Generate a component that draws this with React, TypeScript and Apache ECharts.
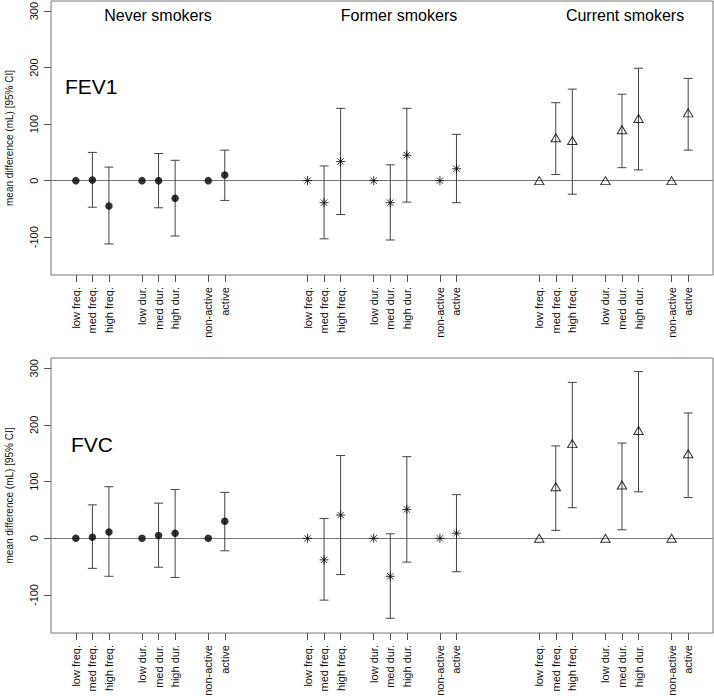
import React, { useEffect, useRef } from 'react';
import * as echarts from 'echarts';

// ---------- data ----------
const groupNames = ['Never smokers', 'Former smokers', 'Current smokers'];
const exposureLabels = ['low freq.', 'med freq.', 'high freq.', 'low dur.', 'med dur.', 'high dur.', 'non-active', 'active'];
const panelNames = ['FEV1', 'FVC'];
const yAxisTitle = 'mean difference (mL) [95% CI]';
const yTicks = [-100, 0, 100, 200, 300];

// FEV1
const fev1Never = [0, 1, -45, 0, 0, -31, 0, 10];
const fev1NeverLo = [null, -47, -112, null, -48, -98, null, -35];
const fev1NeverHi = [null, 50, 24, null, 48, 36, null, 54];
const fev1Former = [0, -39, 34, 0, -39, 45, 0, 21];
const fev1FormerLo = [null, -103, -60, null, -105, -38, null, -39];
const fev1FormerHi = [null, 26, 128, null, 28, 128, null, 82];
const fev1Current = [0, 76, 71, 0, 90, 110, 0, 120];
const fev1CurrentLo = [null, 11, -24, null, 23, 19, null, 54];
const fev1CurrentHi = [null, 138, 162, null, 153, 199, null, 181];

// FVC
const fvcNever = [0, 2, 11, 0, 5, 9, 0, 30];
const fvcNeverLo = [null, -53, -67, null, -51, -69, null, -22];
const fvcNeverHi = [null, 59, 91, null, 62, 86, null, 81];
const fvcFormer = [0, -38, 41, 0, -67, 51, 0, 9];
const fvcFormerLo = [null, -109, -64, null, -141, -42, null, -59];
const fvcFormerHi = [null, 35, 146, null, 8, 144, null, 77];
const fvcCurrent = [0, 91, 167, 0, 94, 190, 0, 149];
const fvcCurrentLo = [null, 14, 54, null, 15, 82, null, 72];
const fvcCurrentHi = [null, 163, 275, null, 168, 294, null, 221];

// ---------- layout ----------
const SLOT_COUNT = 40;
const GROUP_START = [1, 15, 29];
const SLOT_OFFSET = [0, 1, 2, 4, 5, 6, 8, 9];
const FONT = '"Liberation Sans", Arial, Helvetica, sans-serif';

const slotLabels: string[] = Array.from({ length: SLOT_COUNT }, () => '');
GROUP_START.forEach((g) => SLOT_OFFSET.forEach((o, i) => { slotLabels[g + o] = exposureLabels[i]; }));

const panels = [
  {
    groups: [
      { v: fev1Never, lo: fev1NeverLo, hi: fev1NeverHi },
      { v: fev1Former, lo: fev1FormerLo, hi: fev1FormerHi },
      { v: fev1Current, lo: fev1CurrentLo, hi: fev1CurrentHi },
    ],
  },
  {
    groups: [
      { v: fvcNever, lo: fvcNeverLo, hi: fvcNeverHi },
      { v: fvcFormer, lo: fvcFormerLo, hi: fvcFormerHi },
      { v: fvcCurrent, lo: fvcCurrentLo, hi: fvcCurrentHi },
    ],
  },
];

const asterisk = 'path://M0,5L10,5M5,0L5,10M1.5,1.5L8.5,8.5M1.5,8.5L8.5,1.5';

const symbolFor = [
  { symbol: 'circle', symbolSize: 7.5, itemStyle: { color: '#000', borderWidth: 0 } },
  { symbol: asterisk, symbolSize: 9, itemStyle: { color: 'transparent', borderColor: '#000', borderWidth: 1 } },
  { symbol: 'triangle', symbolSize: [9.5, 8], itemStyle: { color: 'transparent', borderColor: '#000', borderWidth: 1 } },
];

const gridBoxes = [
  { left: 51, top: 1, width: 662, height: 274 },
  { left: 51, top: 358, width: 662, height: 275 },
];

function buildOption() {
  const grid = gridBoxes.map((g) => ({
    ...g,
    show: true,
    borderColor: '#777',
    borderWidth: 1,
    backgroundColor: 'transparent',
    containLabel: false,
    outerBoundsMode: 'none',
  }));
  const xAxis = gridBoxes.map((_, p) => ({
    type: 'category',
    gridIndex: p,
    position: 'bottom',
    data: slotLabels.map((_, i) => String(i)),
    boundaryGap: true,
    axisLine: { show: false, onZero: false },
    splitLine: { show: false },
    axisTick: {
      show: true,
      alignWithLabel: true,
      length: 7,
      interval: (i: number) => slotLabels[i] !== '',
      lineStyle: { color: '#555', width: 1 },
    },
    axisLabel: {
      rotate: 90,
      interval: (i: number) => slotLabels[i] !== '',
      formatter: (_v: string, i: number) => slotLabels[i],
      margin: 12,
      fontSize: 11,
      color: '#111',
      fontFamily: FONT,
    },
  }));
  const yAxis = gridBoxes.map((_, p) => ({
    type: 'value',
    gridIndex: p,
    position: 'left',
    min: -167,
    max: 318,
    axisLine: { show: false, onZero: false },
    splitLine: { show: false },
    axisTick: { show: true, length: 7, customValues: yTicks, lineStyle: { color: '#555', width: 1 } },
    axisLabel: { customValues: yTicks, rotate: 90, margin: 12, fontSize: 11, color: '#111', fontFamily: FONT },
    name: yAxisTitle,
    nameLocation: 'middle',
    nameRotate: 90,
    nameGap: 37,
    nameTextStyle: { fontSize: 10, color: '#111', fontFamily: FONT },
  }));

  const series: any[] = [];
  panels.forEach((panel, p) => {
    panel.groups.forEach((grp, g) => {
      const bars: number[][] = [];
      const pts: number[][] = [];
      grp.v.forEach((val, i) => {
        const slot = GROUP_START[g] + SLOT_OFFSET[i];
        pts.push([slot, val]);
        const lo = grp.lo[i];
        const hi = grp.hi[i];
        if (lo !== null && hi !== null) bars.push([slot, lo as number, hi as number]);
      });
      const barSeries: any = {
        type: 'custom',
        xAxisIndex: p,
        yAxisIndex: p,
        z: 2,
        silent: true,
        data: bars,
        encode: { x: 0, y: [1, 2] },
        renderItem: (_params: any, api: any) => {
          const x = api.value(0);
          const a = api.coord([x, api.value(1)]);
          const b = api.coord([x, api.value(2)]);
          const w = 4.5;
          const style = { stroke: '#444', lineWidth: 1, fill: 'none' };
          return {
            type: 'group',
            children: [
              { type: 'line', shape: { x1: a[0], y1: a[1], x2: b[0], y2: b[1] }, style },
              { type: 'line', shape: { x1: b[0] - w, y1: b[1], x2: b[0] + w, y2: b[1] }, style },
              { type: 'line', shape: { x1: a[0] - w, y1: a[1], x2: a[0] + w, y2: a[1] }, style },
            ],
          };
        },
      };
      if (g === 0) {
        barSeries.markLine = {
          silent: true,
          symbol: 'none',
          label: { show: false },
          lineStyle: { color: '#777', width: 1, type: 'solid' },
          data: [{ yAxis: 0 }],
          z: 1,
        };
      }
      series.push(barSeries);
      series.push({
        type: 'scatter',
        xAxisIndex: p,
        yAxisIndex: p,
        z: 3,
        silent: true,
        data: pts,
        ...symbolFor[g],
      });
    });
  });

  const groupTitleX = [158, 399, 625];
  const graphic: any[] = [
    ...groupNames.map((t, i) => ({
      type: 'text',
      x: groupTitleX[i],
      y: 15,
      style: { text: t, align: 'center', verticalAlign: 'middle', fontSize: 16, fontFamily: FONT, fill: '#000' },
    })),
    {
      type: 'text',
      x: 65,
      y: 86,
      style: { text: panelNames[0], align: 'left', verticalAlign: 'middle', fontSize: 21, fontFamily: FONT, fill: '#000' },
    },
    {
      type: 'text',
      x: 71,
      y: 444,
      style: { text: panelNames[1], align: 'left', verticalAlign: 'middle', fontSize: 21, fontFamily: FONT, fill: '#000' },
    },
  ];

  return {
    animation: false,
    backgroundColor: '#fff',
    textStyle: { fontFamily: FONT },
    grid,
    xAxis,
    yAxis,
    series,
    graphic,
  };
}

export default function App() {
  const ref = useRef<HTMLDivElement>(null);
  useEffect(() => {
    if (!ref.current) return;
    const chart = echarts.init(ref.current, undefined, { renderer: 'svg' });
    chart.setOption(buildOption() as any);
    return () => chart.dispose();
  }, []);
  return <div ref={ref} style={{ position: 'absolute', left: 0, top: 0, width: 714, height: 696 }} />;
}
